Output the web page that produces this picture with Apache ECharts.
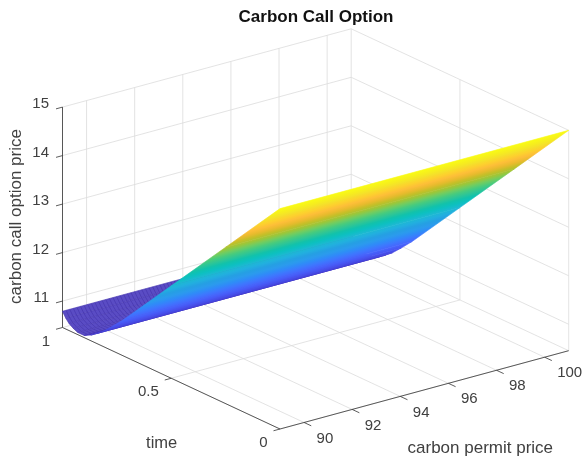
<!DOCTYPE html>
<html><head><meta charset="utf-8">
<style>html,body{margin:0;padding:0;background:#fff}#c{width:587px;height:458px}</style>
<script src="https://cdn.jsdelivr.net/npm/echarts@6/dist/echarts.min.js"></script>
</head><body><div id="c"></div>
<script>
// ---- data ----
const permitRange = [89, 101];
const timeRange = [0, 1];
const priceRange = [10.455, 15];
const permitTicks = [90, 92, 94, 96, 98, 100];
const timeTicks = [0, 0.5, 1];
const priceTicks = [11, 12, 13, 14, 15];
const surfaceTimes  = [0, 0.25, 0.5, 0.72, 0.77, 0.81, 0.84, 0.87, 0.9, 0.93, 0.95, 0.97, 0.985, 1];
const surfacePrices = [15, 13.68, 12.36, 11.2, 10.96, 10.78, 10.67, 10.57, 10.5, 10.5, 10.54, 10.6, 10.68, 10.79];
const parula = ['#3e26a8','#4136c7','#4547e0','#4756f3','#4666fd','#3d78fe','#2f8bf8','#2b9bed','#259fe3','#22afdf','#1cb9d1','#0cc0c0','#11c2ab','#2ec696','#48cb7d','#72cd60','#9dc638','#c4bf28','#e9bb2e','#fdbe38','#fdd02e','#f5e229','#f6f01c','#f9fb15'];
const title = 'Carbon Call Option';
const permitName = 'carbon permit price';
const timeName = 'time';
const priceName = 'carbon call option price';

// ---- orthographic view of the 3-D box ----
const O = [280, 429], EX = [288.7, -78.3], ET = [-217.5, -101.5], EZ = 220.4;
function project(x, t, z) {
  const u = (x - permitRange[0]) / (permitRange[1] - permitRange[0]);
  const v = (t - timeRange[0]) / (timeRange[1] - timeRange[0]);
  const w = (z - priceRange[0]) / (priceRange[1] - priceRange[0]);
  return [O[0] + u * EX[0] + v * ET[0], O[1] + u * EX[1] + v * ET[1] - w * EZ];
}
const [x0, x1] = permitRange, [t0, t1] = timeRange, [z0, z1] = priceRange;

// light grid + dark axes as 3-D segments
const gridSegs = [], axisSegs = [];
const seg = (a, b, c, d, e, f) => [a, b, c, d, e, f];
permitTicks.concat([x0]).forEach(x => { gridSegs.push(seg(x, t0, z0, x, t1, z0)); gridSegs.push(seg(x, t1, z0, x, t1, z1)); });
gridSegs.push(seg(x1, t0, z0, x1, t1, z0));
timeTicks.forEach(t => { gridSegs.push(seg(x0, t, z0, x1, t, z0)); gridSegs.push(seg(x1, t, z0, x1, t, z1)); });
priceTicks.forEach(z => { gridSegs.push(seg(x0, t1, z, x1, t1, z)); gridSegs.push(seg(x1, t1, z, x1, t0, z)); });
axisSegs.push(seg(x0, t0, z0, x1, t0, z0), seg(x0, t0, z0, x0, t1, z0), seg(x0, t1, z0, x0, t1, z1));
permitTicks.forEach(x => axisSegs.push(seg(x, t0, z0, x, t0 - 0.033, z0)));
timeTicks.forEach(t => axisSegs.push(seg(x0, t, z0, x0 - 0.27, t, z0)));
priceTicks.forEach(z => axisSegs.push(seg(x0, t1, z, x0 - 0.27, t1, z)));

// surface strips, far to near
const strips = [];
for (let i = surfaceTimes.length - 2; i >= 0; i--) strips.push([surfaceTimes[i], surfacePrices[i], surfaceTimes[i + 1], surfacePrices[i + 1]]);
const minPrice = 10.4;
function hex(c) { return [1, 3, 5].map(i => parseInt(c.substr(i, 2), 16)); }
function cmap(z) {
  const p = Math.max(0, Math.min(1, (z - minPrice) / (15 - minPrice))) * (parula.length - 1);
  const i = Math.min(parula.length - 2, Math.floor(p)), f = p - i;
  const a = hex(parula[i]), b = hex(parula[i + 1]);
  return 'rgb(' + a.map((v, k) => Math.round(v + (b[k] - v) * f)).join(',') + ')';
}
function stopsBetween(za, zb) {
  const out = [];
  const n = 40;
  for (let k = 0; k <= n; k++) out.push({ offset: k / n, color: cmap(za + (zb - za) * k / n) });
  return out;
}
const backTime = 0.9;
// mesh lines on the rising back part of the surface
const meshX = [];
for (let m = 0; m <= 80; m++) meshX.push(x0 + (x1 - x0) * m / 80);

function renderLine(color, width) {
  return function (p, api) {
    const a = api.coord(project(api.value(0), api.value(1), api.value(2)));
    const b = api.coord(project(api.value(3), api.value(4), api.value(5)));
    return { type: 'line', shape: { x1: a[0], y1: a[1], x2: b[0], y2: b[1] }, style: { stroke: color, lineWidth: width, fill: null } };
  };
}
function renderStrip(p, api) {
  const ta = api.value(0), za = api.value(1), tb = api.value(2), zb = api.value(3);
  const pts = [project(x0, ta, za), project(x1, ta, za), project(x1, tb, zb), project(x0, tb, zb)].map(q => api.coord(q));
  const dx = pts[1][0] - pts[0][0], dy = pts[1][1] - pts[0][1], L = Math.hypot(dx, dy);
  const nx = -dy / L, ny = dx / L;
  const d = (pts[3][0] - pts[0][0]) * nx + (pts[3][1] - pts[0][1]) * ny;
  const back = ta >= backTime;
  if (back) return { type: 'polygon', shape: { points: pts }, style: { fill: '#5a4cc4', stroke: '#5a4cc4', lineWidth: 0.3 } };
  const grad = new echarts.graphic.LinearGradient(pts[0][0], pts[0][1], pts[0][0] + nx * d, pts[0][1] + ny * d, stopsBetween(za, zb), true);
  return { type: 'polygon', shape: { points: pts }, style: { fill: grad, stroke: grad, lineWidth: 0.6 } };
}
function renderMesh(p, api) {
  const x = api.value(0);
  const pts = [];
  surfaceTimes.forEach((t, i) => { if (t >= backTime) pts.push(api.coord(project(x, t, surfacePrices[i]))); });
  return { type: 'polyline', shape: { points: pts }, style: { stroke: '#3d2ca6', lineWidth: 0.7, opacity: 0.7, fill: null } };
}
function renderRung(p, api) {
  const i = api.value(0);
  const a = api.coord(project(x0, surfaceTimes[i], surfacePrices[i])), b = api.coord(project(x1, surfaceTimes[i], surfacePrices[i]));
  return { type: 'line', shape: { x1: a[0], y1: a[1], x2: b[0], y2: b[1] }, style: { stroke: '#3d2ca6', lineWidth: 0.6, opacity: 0.7 } };
}

const textColor = '#404040';
const labels = [];
const tl = (s, px, py, align, size, extra) => labels.push(Object.assign({ s, px, py, align, size }, extra || {}));
permitTicks.forEach(x => { const q = project(x, t0, z0); tl(String(x), q[0] + 12.5, q[1] + 16, 'left', 15); });
priceTicks.forEach(z => { const q = project(x0, t1, z); tl(String(z), q[0] - 13.5, q[1] - 3, 'right', 15); });
timeTicks.forEach(t => { const q = project(x0, t, z0); tl(String(t), q[0] - 12.5, q[1] + 14, 'right', 15); });
tl(timeName, 161.7, 443, 'center', 16.5);
tl(permitName, 480.3, 448.7, 'center', 17);
tl(priceName, 16, 216.5, 'center', 17, { rot: Math.PI / 2 });

function renderLabel(p, api) {
  const l = labels[p.dataIndex];
  const c = api.coord([l.px, l.py]);
  return { type: 'text', x: c[0], y: c[1], rotation: l.rot || 0,
    style: { text: l.s, fill: textColor, font: l.size + 'px "Liberation Sans", Arial, sans-serif', align: l.align, verticalAlign: 'middle' } };
}

const chart = echarts.init(document.getElementById('c'), null, { renderer: 'canvas' });
const backStrips = strips.filter(s => s[0] >= backTime);
const rungs = surfaceTimes.map((t, i) => [i]).filter(r => surfaceTimes[r[0]] >= backTime);
chart.setOption({
  animation: false,
  backgroundColor: '#ffffff',
  title: { text: title, left: 311, top: 4, textAlign: 'center', textStyle: { fontFamily: '"Liberation Sans", Arial, sans-serif', fontWeight: 'bold', fontSize: 17, color: '#111111' } },
  grid: { left: 0, right: 0, top: 0, bottom: 0 },
  xAxis: { type: 'value', min: 0, max: 587, show: false },
  yAxis: { type: 'value', min: 0, max: 458, inverse: true, show: false },
  tooltip: { show: false },
  series: [
    { type: 'custom', name: 'grid', clip: false, silent: true, z: 1, renderItem: renderLine('#dcdcdc', 0.8), data: gridSegs },
    { type: 'custom', name: 'axes', clip: false, silent: true, z: 2, renderItem: renderLine('#333333', 0.8), data: axisSegs },
    { type: 'custom', name: 'back mesh', clip: false, silent: true, z: 3, renderItem: renderStrip, data: backStrips },
    { type: 'custom', name: 'mesh', clip: false, silent: true, z: 4, renderItem: renderMesh, data: meshX.map(x => [x]) },
    { type: 'custom', name: 'rungs', clip: false, silent: true, z: 4, renderItem: renderRung, data: rungs },
    { type: 'custom', name: 'surface', clip: false, silent: true, z: 5, renderItem: renderStrip, data: strips.filter(s => s[0] < backTime) },
    { type: 'custom', name: 'labels', clip: false, silent: true, z: 6, renderItem: renderLabel, data: labels.map((l, i) => [i]) }
  ]
});
</script></body></html>
